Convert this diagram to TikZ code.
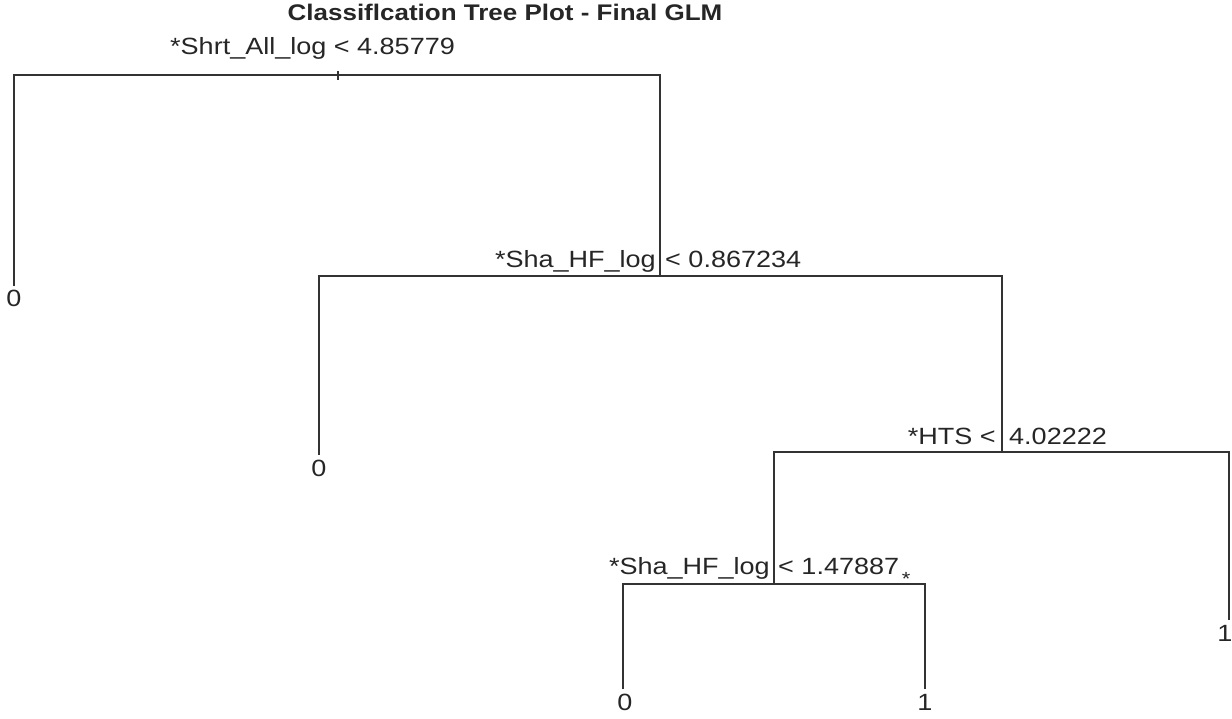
\documentclass[tikz,border=0pt]{standalone}
\usepackage{fontspec}
\setmainfont{Liberation Sans}[FakeStretch=1.15]
\begin{document}
\begin{tikzpicture}[x=1pt,y=-1pt,
  edge/.style={draw=black!80,line width=1.4pt},
  lbl/.style={inner sep=0pt,text=black!85,font=\fontsize{23.5}{27}\selectfont},
  ttl/.style={inner sep=0pt,text=black!85,font=\fontsize{22.6}{26}\selectfont\bfseries}]
\useasboundingbox (0,0) rectangle (1232,718);
% title
\node[ttl,anchor=base] (title) at (505,20) {Classiflcation Tree Plot - Final GLM};
% split 1
\coordinate (s1l) at (14,75);
\coordinate (s1r) at (660,75);
\coordinate (s1ta) at (338,71);
\coordinate (s1tb) at (338,80);
\node[lbl,anchor=base west] (lab1) at (170,54) {*Shrt\_All\_log < 4.85779};
% split 2
\coordinate (s2) at (660,276);
\coordinate (s2l) at (319,276);
\coordinate (s2r) at (1002,276);
\node[lbl,anchor=base east] (lab2a) at (656,267) {*Sha\_HF\_log};
\node[lbl,anchor=base west] (lab2b) at (665,267) {< 0.867234};
% split 3
\coordinate (s3) at (1002,452);
\coordinate (s3l) at (774,452);
\coordinate (s3r) at (1229,452);
\node[lbl,anchor=base east] (lab3a) at (996,444) {*HTS <};
\node[lbl,anchor=base west] (lab3b) at (1009,444) {4.02222};
% split 4
\coordinate (s4) at (774,584);
\coordinate (s4l) at (623,584);
\coordinate (s4r) at (925,584);
\node[lbl,anchor=base east] (lab4a) at (770,574) {*Sha\_HF\_log};
\node[lbl,anchor=base west] (lab4b) at (778,574) {< 1.47887};
\node[lbl,font=\fontsize{19}{20}\selectfont] (star) at (906,579) {*};
% leaves
\node[lbl,anchor=base] (leaf1) at (14,306) {0};
\node[lbl,anchor=base] (leaf2) at (319,476) {0};
\node[lbl,anchor=base] (leaf3) at (1225,641) {1};
\node[lbl,anchor=base] (leaf4) at (625,710) {0};
\node[lbl,anchor=base] (leaf5) at (925,710) {1};
\coordinate (e1) at (14,286);
\coordinate (e2) at (319,455);
\coordinate (e3) at (1229,620);
\coordinate (e4) at (623,689);
\coordinate (e5) at (925,689);
% edges
\draw[edge] (e1) -- (s1l) -- (s1r) -- (s2);
\draw[edge] (s1ta) -- (s1tb);
\draw[edge] (e2) -- (s2l) -- (s2r) -- (s3);
\draw[edge] (e3) -- (s3r) -- (s3l) -- (s4);
\draw[edge] (e4) -- (s4l) -- (s4r) -- (e5);
\end{tikzpicture}
\end{document}
